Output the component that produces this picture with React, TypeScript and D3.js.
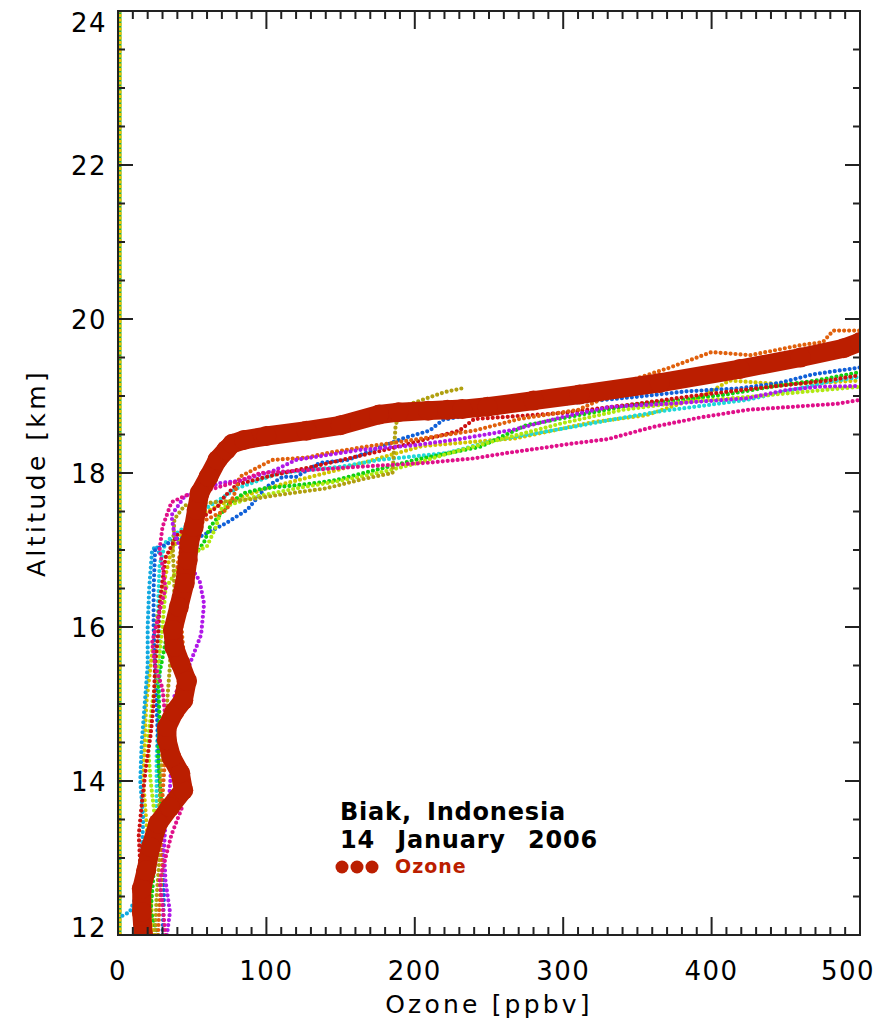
import React from "react";
import * as d3 from "d3";

// ---------- data ----------
const xTickValues = [0, 100, 200, 300, 400, 500];
const yTickValues = [12, 14, 16, 18, 20, 22, 24];

// measured ozone profile [ozone ppbv, altitude km]
const ozoneProfile: [number, number][] = [
  [17, 12.0], [16, 12.3], [16, 12.6], [19, 12.84], [22, 13.14], [27, 13.45], [35, 13.66],
  [44, 13.88], [42, 14.1], [36, 14.31], [33, 14.53], [33, 14.7], [38, 14.9], [44, 15.05],
  [46.5, 15.3], [42, 15.53], [38, 15.74], [37, 15.96], [41, 16.26], [45, 16.57], [47, 16.87],
  [48, 17.09], [51, 17.3], [53, 17.52], [55, 17.74], [61, 17.95], [67, 18.17], [73, 18.3],
  [77, 18.38], [85, 18.43], [100, 18.48], [127, 18.55], [150, 18.62], [176, 18.76],
  [189, 18.79], [209, 18.81], [222, 18.82], [232, 18.83], [249, 18.86], [280, 18.94],
  [311, 19.02], [365, 19.17], [419, 19.35], [460, 19.5], [489, 19.62], [500, 19.7],
];

// trajectory ensemble members
const oliveSeries: [number, number][] = [
  [25, 12.0], [26, 12.5], [28, 13.0], [27, 13.5], [29, 14.0], [30, 14.5], [33, 15.0], [35, 15.5],
  [36, 16.0], [38, 16.5], [37, 17.0], [38, 17.4], [45, 17.58], [65, 17.62], [90, 17.66],
  [110, 17.72], [140, 17.8], [165, 17.92], [185, 18.0], [186, 18.3], [187, 18.6], [190, 18.85],
  [205, 18.95], [220, 19.05], [232, 19.1],
];
const chartreuseSeries: [number, number][] = [
  [22, 12.0], [20, 12.5], [22, 13.0], [25, 13.5], [22, 14.0], [20, 14.5], [23, 15.0], [27, 15.5],
  [30, 16.0], [32, 16.5], [45, 16.9], [60, 17.05], [66, 17.3], [70, 17.55], [90, 17.68],
  [120, 17.8], [150, 17.9], [180, 18.02], [200, 18.12], [222, 18.25], [260, 18.45], [300, 18.65],
  [340, 18.82], [380, 18.92], [420, 18.98], [460, 19.05], [500, 19.12],
];
const greenSeries: [number, number][] = [
  [27, 12.0], [22, 12.3], [24, 12.8], [27, 13.3], [29, 13.8], [27, 14.3], [28, 14.8], [27, 15.3],
  [32, 15.8], [38, 16.3], [46, 16.8], [58, 17.1], [62, 17.3], [75, 17.6], [85, 17.74], [98, 17.8],
  [125, 17.85], [145, 17.9], [180, 18.07], [200, 18.17], [244, 18.34], [275, 18.62], [310, 18.75],
  [345, 18.88], [380, 18.95], [410, 19.02], [440, 19.12], [470, 19.2], [500, 19.31],
];
const blueSeries: [number, number][] = [
  [30, 12.0], [31, 12.5], [30, 13.0], [29, 13.5], [28, 14.0], [27, 14.5], [26, 15.0], [25, 15.5],
  [24, 16.0], [24, 16.5], [25, 17.0], [40, 17.15], [55, 17.17], [73, 17.35], [87, 17.52],
  [100, 17.82], [111, 17.95], [120, 17.95], [136, 18.13], [155, 18.17], [192, 18.45], [210, 18.55],
  [219, 18.69], [244, 18.78], [300, 18.9], [350, 18.99], [383, 19.06], [419, 19.1], [446, 19.17],
  [468, 19.28], [500, 19.37],
];
const cyanSeries: [number, number][] = [
  [20, 12.0], [18, 12.4], [22, 12.8], [25, 13.3], [26, 13.8], [26, 14.3], [27, 14.8], [28, 15.3],
  [28, 15.8], [27, 16.3], [28, 16.8], [32, 17.1], [45, 17.3], [60, 17.55], [80, 17.8], [109, 18.0],
  [150, 18.08], [176, 18.17], [222, 18.26], [255, 18.43], [307, 18.6], [332, 18.69], [365, 18.8],
  [424, 18.95], [478, 19.18], [500, 19.25],
];
const skyBlueSeries: [number, number][] = [
  [3, 12.25], [8, 12.3], [14, 12.6], [16, 13.0], [17, 13.5], [15, 14.0], [16, 14.5], [18, 15.0],
  [20, 15.5], [20, 16.0], [21, 16.5], [23, 17.0], [26, 17.05], [28, 16.95],
];
const crimsonSeries: [number, number][] = [
  [20, 12.0], [17, 12.5], [15, 12.9], [14, 13.3], [16, 13.7], [19, 14.2], [22, 14.6], [24, 15.0],
  [25, 15.5], [27, 15.9], [28, 16.3], [30, 16.6], [32, 16.9], [40, 17.2], [55, 17.4], [67, 17.56],
  [72, 17.7], [80, 17.85], [100, 17.95], [140, 18.12], [180, 18.3], [230, 18.55], [240, 18.7],
  [300, 18.78], [350, 18.9], [387, 19.0], [430, 19.1], [478, 19.2], [500, 19.27],
];
const orangeSeries: [number, number][] = [
  [27, 12.0], [28, 12.4], [30, 12.9], [29, 13.5], [31, 14.1], [33, 14.6], [40, 15.2], [44, 15.7],
  [42, 16.2], [40, 16.8], [45, 17.2], [60, 17.4], [73, 17.52], [78, 17.7], [82, 17.95],
  [104, 18.17], [127, 18.2], [141, 18.26], [170, 18.35], [199, 18.43], [240, 18.55], [270, 18.7],
  [310, 18.82], [325, 18.95], [345, 19.2], [372, 19.37], [400, 19.57], [426, 19.53], [460, 19.66],
  [475, 19.7], [482, 19.85], [500, 19.85],
];
const yellowSeries: [number, number][] = [
  [24, 12.0], [22, 12.5], [21, 13.0], [19, 13.5], [17, 14.0], [18, 14.5], [19, 15.0], [22, 15.5],
  [25, 16.0], [30, 16.5], [36, 17.0], [50, 17.4], [70, 17.6], [100, 17.8], [150, 18.05],
  [205, 18.35], [268, 18.45], [320, 18.66], [356, 18.75], [394, 19.0], [412, 19.2], [450, 19.15],
  [500, 19.2],
];
const purpleSeries: [number, number][] = [
  [33, 12.0], [35, 12.3], [32, 12.7], [31, 13.1], [32, 13.5], [35, 13.9], [36, 14.3], [38, 14.7],
  [38, 15.1], [48, 15.5], [56, 15.9], [58, 16.3], [55, 16.6], [45, 16.9], [38, 17.2], [36, 17.45],
  [45, 17.7], [69, 17.87], [82, 17.9], [105, 18.03], [120, 18.17], [150, 18.26], [163, 18.3],
  [200, 18.36], [230, 18.44], [266, 18.56], [300, 18.73], [332, 18.86], [372, 18.9], [424, 18.97],
  [451, 19.08], [473, 19.12], [500, 19.13],
];
const pinkSeries: [number, number][] = [
  [32, 12.0], [30, 12.4], [28, 12.7], [32, 13.0], [36, 13.3], [43, 13.65], [40, 14.0], [35, 14.4],
  [32, 14.8], [30, 15.2], [25, 15.5], [23, 15.8], [28, 16.2], [32, 16.5], [30, 16.8], [28, 17.0],
  [30, 17.3], [36, 17.62], [46, 17.71], [65, 17.8], [82, 17.9], [96, 18.0], [130, 18.04],
  [170, 18.09], [207, 18.13], [240, 18.19], [262, 18.26], [284, 18.32], [305, 18.38], [330, 18.44],
  [361, 18.6], [392, 18.72], [424, 18.82], [455, 18.86], [485, 18.9], [500, 18.95],
];
const zeroSeries: [number, number][] = [[0, 12], [0, 24]];

const trajectories = [
  { color: "#d0c400", pts: yellowSeries },
  { color: "#10a8e0", pts: skyBlueSeries },
  { color: "#20d8d8", pts: cyanSeries },
  { color: "#1060d8", pts: blueSeries },
  { color: "#10d010", pts: greenSeries },
  { color: "#b0e810", pts: chartreuseSeries },
  { color: "#b0a010", pts: oliveSeries },
  { color: "#cc1010", pts: crimsonSeries },
  { color: "#e0600c", pts: orangeSeries },
  { color: "#b018e8", pts: purpleSeries },
  { color: "#e0108a", pts: pinkSeries },
];

// ---------- layout ----------
const W = 892, H = 1028;
const L = 118, R = 860, T = 11, B = 935;
const RED = "#bb1e00";
const FONT = "'DejaVu Sans', sans-serif";

export default function App() {
  const x = d3.scaleLinear().domain([0, 500]).range([L, R]);
  const y = d3.scaleLinear().domain([12, 24]).range([B, T]);
  const line = d3.line<[number, number]>().x((d) => x(d[0])).y((d) => y(d[1]));

  const xMinor = d3.range(0, 501, 10);
  const yMinor = d3.range(12, 24.01, 0.5);
  const axisColor = "#222";

  return (
    <svg width={W} height={H} style={{ position: "absolute", left: 0, top: 0, background: "#fff" }}>
      <defs>
        <clipPath id="plot">
          <rect x={L} y={T} width={R - L} height={B - T} />
        </clipPath>
      </defs>
      <rect x={0} y={0} width={W} height={H} fill="#fff" />
      <g clipPath="url(#plot)">
        {/* zero-ozone member */}
        <path d={line(zeroSeries) || ""} stroke="#20b040" strokeWidth={3} fill="none" transform="translate(2,0)" />
        <path d={line(zeroSeries) || ""} stroke="#f2c200" strokeWidth={3} strokeDasharray="3 1.5" fill="none" transform="translate(2,0)" />
        {trajectories.map((s, i) => (
          <path
            key={i}
            d={line(s.pts) || ""}
            fill="none"
            stroke={s.color}
            strokeWidth={4.2}
            strokeLinecap="round"
            strokeDasharray="0 5"
          />
        ))}
        {/* ozone profile */}
        <path d={line(ozoneProfile) || ""} fill="none" stroke={RED} strokeWidth={19} strokeLinecap="round" strokeLinejoin="round" />
        {ozoneProfile.map((d, i) => (
          <circle key={i} cx={x(d[0])} cy={y(d[1])} r={10} fill={RED} />
        ))}
      </g>

      {/* frame */}
      <rect x={L} y={T} width={R - L} height={B - T} fill="none" stroke={axisColor} strokeWidth={2} />

      {/* x ticks */}
      {xMinor.map((v) => {
        const major = v % 100 === 0;
        const len = major ? 18 : 8;
        return (
          <g key={"x" + v}>
            <line x1={x(v)} x2={x(v)} y1={B} y2={B - len} stroke={axisColor} strokeWidth={2} />
            <line x1={x(v)} x2={x(v)} y1={T} y2={T + len} stroke={axisColor} strokeWidth={2} />
          </g>
        );
      })}
      {/* y ticks */}
      {yMinor.map((v) => {
        const major = Math.abs(v % 2) < 1e-6;
        const len = major ? 15 : 7;
        return (
          <g key={"y" + v}>
            <line x1={L} x2={L + len} y1={y(v)} y2={y(v)} stroke={axisColor} strokeWidth={2} />
            <line x1={R} x2={R - len} y1={y(v)} y2={y(v)} stroke={axisColor} strokeWidth={2} />
          </g>
        );
      })}

      {/* tick labels */}
      {xTickValues.map((v) => (
        <text
          key={"xl" + v}
          x={Math.min(x(v), 848)}
          y={980}
          textAnchor="middle"
          fontFamily={FONT}
          fontSize={26}
          letterSpacing={1.5}
          fill="#000"
        >
          {v}
        </text>
      ))}
      {yTickValues.map((v) => (
        <text
          key={"yl" + v}
          x={107}
          y={Math.max(22, Math.min(927, y(v))) + 9.5}
          textAnchor="end"
          fontFamily={FONT}
          fontSize={26}
          letterSpacing={1.5}
          fill="#000"
        >
          {v}
        </text>
      ))}

      {/* axis titles */}
      <text x={(L + R) / 2} y={1013} textAnchor="middle" fontFamily={FONT} fontSize={25} letterSpacing={3.2} fill="#000">
        Ozone [ppbv]
      </text>
      <text
        transform={`translate(45, ${(T + B) / 2}) rotate(-90)`}
        textAnchor="middle"
        fontFamily={FONT}
        fontSize={25}
        letterSpacing={3.4}
        fill="#000"
      >
        Altitude [km]
      </text>

      {/* annotation */}
      <text x={340} y={820} fontFamily={FONT} fontWeight="bold" fontSize={24} letterSpacing={0.8} wordSpacing={6} fill="#000">
        Biak, Indonesia
      </text>
      <text x={340} y={848} fontFamily={FONT} fontWeight="bold" fontSize={24} letterSpacing={0.8} wordSpacing={13} fill="#000">
        14 January 2006
      </text>
      {[342, 357, 372].map((cx) => (
        <circle key={cx} cx={cx} cy={867} r={6.5} fill={RED} />
      ))}
      <text x={395} y={873} fontFamily={FONT} fontWeight="bold" fontSize={19} letterSpacing={1} fill={RED}>
        Ozone
      </text>
    </svg>
  );
}
